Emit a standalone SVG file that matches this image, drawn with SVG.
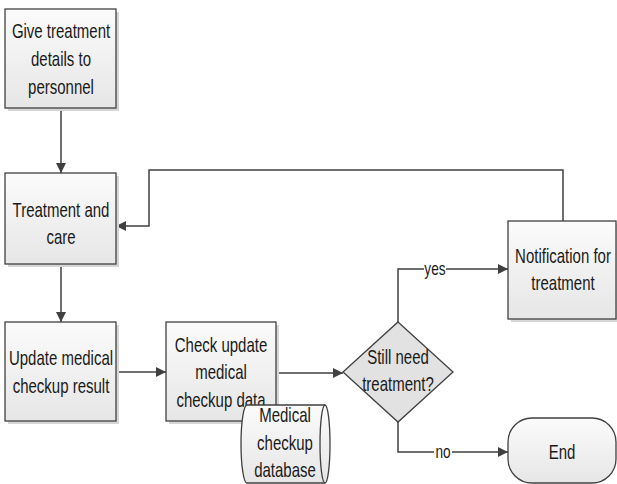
<svg xmlns="http://www.w3.org/2000/svg" width="617" height="484" viewBox="0 0 617 484">
<style>
.box{fill:url(#g);stroke:#404040;stroke-width:1.3}
.sh{fill:#d6d6d6}
.dia{fill:#e2e2e2;stroke:#404040;stroke-width:1.3}
.c{fill:none;stroke:#404040;stroke-width:1.5}
text{font-family:"Liberation Sans",Arial,sans-serif;font-size:20px;fill:#1a1a1a;text-anchor:middle}
.lbl{font-size:18px}
</style>
<defs>
<linearGradient id="g" x1="0" y1="0" x2="0" y2="1">
<stop offset="0" stop-color="#fbfbfb"/>
<stop offset="1" stop-color="#e6e6e6"/>
</linearGradient>
<marker id="a" viewBox="0 0 10 10" refX="10" refY="5" markerWidth="10" markerHeight="10" markerUnits="userSpaceOnUse" orient="auto">
<path d="M0,0 L10,5 L0,10 Z" fill="#404040"/>
</marker>
</defs>
<g id="connectors">
<path class="c" d="M61,108 V173" marker-end="url(#a)"/>
<path class="c" d="M61,264 V322" marker-end="url(#a)"/>
<path class="c" d="M116,372 H166" marker-end="url(#a)"/>
<path class="c" d="M276,373 H343" marker-end="url(#a)"/>
<path class="c" d="M398,322 V269 H508" marker-end="url(#a)"/>
<path class="c" d="M398,422 V452 H508" marker-end="url(#a)"/>
<path class="c" d="M563,221 V170 H149 V226 H116" marker-end="url(#a)"/>
<rect x="424" y="260" width="22" height="16" fill="#fff"/>
<text class="lbl" transform="translate(435,275) scale(0.76,1)">yes</text>
<rect x="434" y="443" width="18" height="16" fill="#fff"/>
<text class="lbl" transform="translate(443,458) scale(0.76,1)">no</text>
</g>
<g id="n1">
<rect class="sh" x="8" y="12" width="111" height="99"/>
<rect class="box" x="5" y="9" width="111" height="99"/>
<text transform="translate(61,38) scale(0.75,1)">Give treatment</text>
<text transform="translate(61,66) scale(0.75,1)">details to</text>
<text transform="translate(61,94) scale(0.75,1)">personnel</text>
</g>
<g id="n2">
<rect class="sh" x="8" y="176" width="111" height="91"/>
<rect class="box" x="5" y="173" width="111" height="91"/>
<text transform="translate(61,217) scale(0.75,1)">Treatment and</text>
<text transform="translate(61,244) scale(0.75,1)">care</text>
</g>
<g id="n3">
<rect class="sh" x="8" y="325" width="111" height="99"/>
<rect class="box" x="5" y="322" width="111" height="99"/>
<text transform="translate(61,365) scale(0.75,1)">Update medical</text>
<text transform="translate(61,393) scale(0.75,1)">checkup result</text>
</g>
<g id="n4">
<rect class="sh" x="169" y="325" width="110" height="99"/>
<rect class="box" x="166" y="322" width="110" height="99"/>
<text transform="translate(221,352) scale(0.75,1)">Check update</text>
<text transform="translate(221,379) scale(0.75,1)">medical</text>
<text transform="translate(221,407) scale(0.75,1)">checkup data</text>
</g>
<g id="db">
<path d="M247,405 H325 A5,39 0 0 1 325,483 H247 A6,39 0 0 1 247,405 Z" fill="url(#g)" stroke="#404040" stroke-width="1.3"/>
<path d="M325,405 A5,39 0 0 0 325,483" fill="none" stroke="#404040" stroke-width="1.3"/>
<text transform="translate(285,422) scale(0.75,1)">Medical</text>
<text transform="translate(285,450) scale(0.75,1)">checkup</text>
<text transform="translate(285,477) scale(0.75,1)">database</text>
</g>
<g id="decision">
<polygon class="dia" points="398,322 453,372 398,422 343,372"/>
<text transform="translate(398,364) scale(0.75,1)">Still need</text>
<text transform="translate(398,391) scale(0.75,1)">treatment?</text>
</g>
<g id="notify">
<rect class="sh" x="511" y="224" width="108" height="98"/>
<rect class="box" x="508" y="221" width="108" height="98"/>
<text transform="translate(563,263) scale(0.75,1)">Notification for</text>
<text transform="translate(563,290) scale(0.75,1)">treatment</text>
</g>
<g id="end">
<rect x="508" y="418" width="108" height="65" rx="24" fill="url(#g)" stroke="#404040" stroke-width="1.3"/>
<text transform="translate(562,459) scale(0.75,1)">End</text>
</g>
</svg>
